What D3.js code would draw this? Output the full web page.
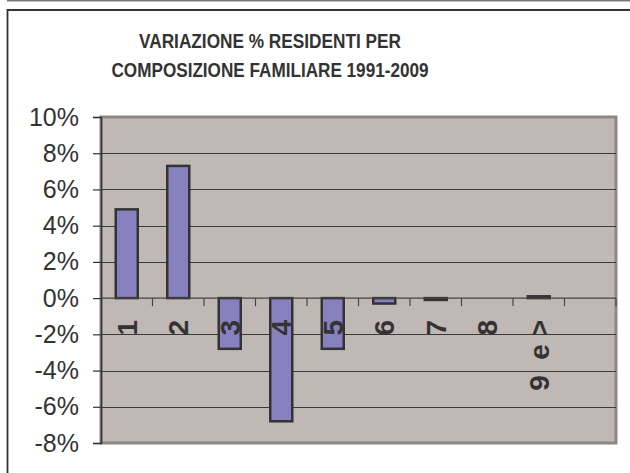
<!DOCTYPE html>
<html>
<head>
<meta charset="utf-8">
<script src="https://cdn.jsdelivr.net/npm/d3@7"></script>
<style>
  body { margin: 0; background: #fff; }
  svg { display: block; }
</style>
</head>
<body>
<svg id="chart" width="630" height="473"></svg>
<script>
// categories = household size, last band left empty like the original
const categories = ["1", "2", "3", "4", "5", "6", "7", "8", "9  e >", ""]
const values = [4.9, 7.3, -2.8, -6.8, -2.8, -0.3, -0.1, 0, 0.1, null]
const yTicks = [10, 8, 6, 4, 2, 0, -2, -4, -6, -8]
const titleLines = ["VARIAZIONE % RESIDENTI PER", "COMPOSIZIONE FAMILIARE 1991-2009"]
const titleWidths = [262, 317]

const svg = d3.select("#chart")

const plot = {left: 101, right: 616, top: 117, bottom: 443}

// outer frame
svg.append("line")
    .attr("x1", 7).attr("x2", 630)
    .attr("y1", 0.75).attr("y2", 0.75)
    .attr("stroke", "#7a7a7a")
    .attr("stroke-width", 1.5)
svg.append("path")
    .attr("d", `M 7.5 473 L 7.5 10 L 630 10`)
    .attr("fill", "none")
    .attr("stroke", "#333")
    .attr("stroke-width", 1.8)

// title - condensed to the original's width
svg.append("g")
    .selectAll("text")
    .data(titleLines)
    .enter()
    .append("text")
    .attr("x", 270)
    .attr("y", (d, i) => 47.5 + i*29.5)
    .attr("text-anchor", "middle")
    .attr("font-family", "Liberation Sans, Arial, sans-serif")
    .attr("font-weight", "bold")
    .attr("font-size", "20.5px")
    .attr("textLength", (d, i) => titleWidths[i])
    .attr("lengthAdjust", "spacingAndGlyphs")
    .attr("fill", "#333")
    .text(d => d)

const x = d3.scaleBand()
    .domain(categories.map((d, i) => i))
    .range([plot.left, plot.right])
    .padding(0)

const y = d3.scaleLinear()
    .domain([-8, 10])
    .range([plot.bottom, plot.top])

// plot background
svg.append("rect")
    .attr("x", plot.left)
    .attr("y", plot.top)
    .attr("width", plot.right - plot.left)
    .attr("height", plot.bottom - plot.top)
    .attr("fill", "#c0b8b5")
    .attr("stroke", "#8f8784")
    .attr("stroke-width", 3)

// grid
svg.append("g")
    .selectAll("line")
    .data(yTicks.filter(d => d !== 10 && d !== -8 && d !== 0))
    .enter()
    .append("line")
    .attr("x1", plot.left).attr("x2", plot.right)
    .attr("y1", d => Math.round(y(d)) + 0.5)
    .attr("y2", d => Math.round(y(d)) + 0.5)
    .attr("stroke", "#3a3a3a")
    .attr("stroke-width", 1)

// y axis
const yAxis = svg.append("g")
    .attr("transform", `translate(${plot.left},0)`)
    .call(d3.axisLeft(y).tickValues(yTicks).tickSize(8).tickPadding(14)
        .tickFormat(d => d + "%"))
yAxis.select(".domain").attr("stroke", "#333").attr("stroke-width", 1.5)
yAxis.selectAll(".tick line").attr("stroke", "#333").attr("stroke-width", 1.2)
yAxis.selectAll(".tick text")
    .attr("font-family", "Liberation Sans, Arial, sans-serif")
    .attr("font-size", "25px")
    .attr("fill", "#333")

// bars
svg.append("g")
    .selectAll("rect")
    .data(values.map((v, i) => ({i, v})).filter(d => d.v !== null && d.v !== 0))
    .enter()
    .append("rect")
    .attr("x", d => x(d.i) + x.bandwidth()/2 - 11)
    .attr("width", 22)
    .attr("y", d => y(Math.max(0, d.v)))
    .attr("height", d => Math.abs(y(d.v) - y(0)))
    .attr("fill", "#8781bf")
    .attr("stroke", "#333")
    .attr("stroke-width", 2.5)

// x axis at 0
const xAxisG = svg.append("g")
xAxisG.append("line")
    .attr("x1", plot.left).attr("x2", plot.right)
    .attr("y1", y(0)).attr("y2", y(0))
    .attr("stroke", "#444")
    .attr("stroke-width", 1.2)
xAxisG.selectAll("line.tick")
    .data(categories.map((d, i) => i))
    .enter()
    .append("line")
    .attr("class", "tick")
    .attr("x1", d => x(d) + x.bandwidth())
    .attr("x2", d => x(d) + x.bandwidth())
    .attr("y1", y(0))
    .attr("y2", y(0) + 8)
    .attr("stroke", "#444")
    .attr("stroke-width", 1.2)

xAxisG.selectAll("text")
    .data(categories)
    .enter()
    .append("text")
    .attr("transform", (d, i) => `translate(${x(i) + x.bandwidth()/2},320) rotate(-90)`)
    .attr("dy", "0.36em")
    .attr("text-anchor", "end")
    .attr("font-family", "Liberation Sans, Arial, sans-serif")
    .attr("font-weight", "bold")
    .attr("font-size", "28px")
    .attr("fill", "#333")
    .style("white-space", "pre")
    .text(d => d)
</script>
</body>
</html>
